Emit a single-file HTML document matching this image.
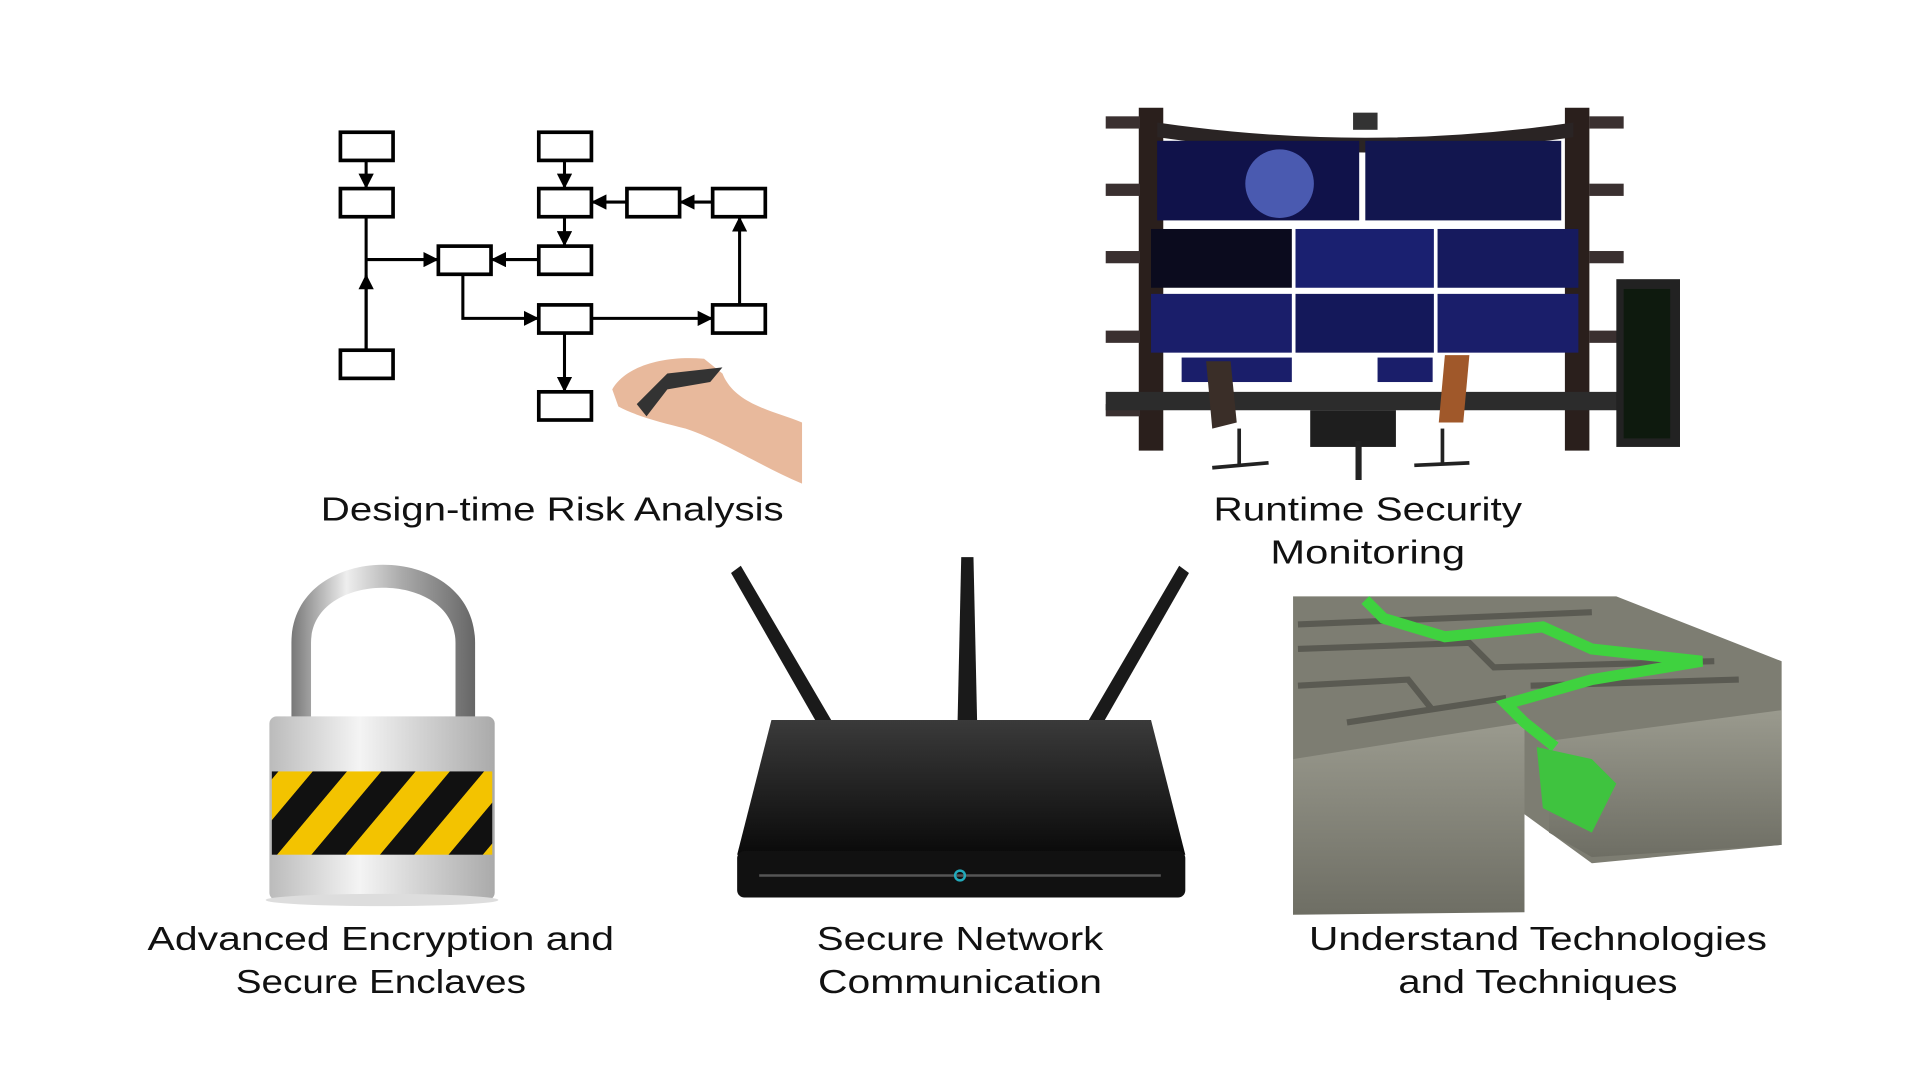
<!DOCTYPE html>
<html><head><meta charset="utf-8"><style>
html,body{margin:0;padding:0;background:#fff;width:1920px;height:1080px;overflow:hidden}
svg{display:block}
text{font-family:"Liberation Sans",sans-serif;font-size:27px;fill:#111;text-anchor:middle}
</style></head><body>
<svg width="1920" height="1080" viewBox="0 0 1568 882" xmlns="http://www.w3.org/2000/svg">
<defs>
<marker id="ar" markerWidth="5" markerHeight="5" refX="4.5" refY="2.5" orient="auto"><path d="M0,0 L5,2.5 L0,5 z" fill="#000"/></marker>
<linearGradient id="sh" x1="0" x2="1"><stop offset="0" stop-color="#777"/><stop offset=".3" stop-color="#eee"/><stop offset=".6" stop-color="#aaa"/><stop offset="1" stop-color="#666"/></linearGradient>
<linearGradient id="body" x1="0" x2="1"><stop offset="0" stop-color="#bbb"/><stop offset=".4" stop-color="#f4f4f4"/><stop offset="1" stop-color="#aaa"/></linearGradient>
<linearGradient id="rt" x1="0" y1="0" x2="0" y2="1"><stop offset="0" stop-color="#3a3a3a"/><stop offset="1" stop-color="#0a0a0a"/></linearGradient>
<linearGradient id="wall" x1="0" y1="0" x2="0" y2="1"><stop offset="0" stop-color="#9a9a8e"/><stop offset="1" stop-color="#6e6e64"/></linearGradient>
<pattern id="stripes" width="56" height="70" patternUnits="userSpaceOnUse" patternTransform="skewX(-40)"><rect width="56" height="70" fill="#f3c300"/><rect width="28" height="70" fill="#111"/></pattern>
</defs>

<g fill="#fff" stroke="#000" stroke-width="3">
<rect x="278" y="108" width="43" height="23"/>
<rect x="278" y="154" width="43" height="23"/>
<rect x="278" y="286" width="43" height="23"/>
<rect x="440" y="108" width="43" height="23"/>
<rect x="440" y="154" width="43" height="23"/>
<rect x="512" y="154" width="43" height="23"/>
<rect x="582" y="154" width="43" height="23"/>
<rect x="358" y="201" width="43" height="23"/>
<rect x="440" y="201" width="43" height="23"/>
<rect x="440" y="249" width="43" height="23"/>
<rect x="582" y="249" width="43" height="23"/>
<rect x="440" y="320" width="43" height="23"/>
</g>
<g stroke="#000" stroke-width="2.5" fill="none" marker-end="url(#ar)">
<line x1="299" y1="131" x2="299" y2="153"/>
<line x1="461" y1="131" x2="461" y2="153"/>
<line x1="461" y1="177" x2="461" y2="200"/>
<line x1="512" y1="165" x2="484" y2="165"/>
<line x1="582" y1="165" x2="556" y2="165"/>
<line x1="299" y1="212" x2="357" y2="212"/>
<line x1="440" y1="212" x2="402" y2="212"/>
<polyline points="378,224 378,260 439,260"/>
<line x1="483" y1="260" x2="581" y2="260"/>
<line x1="604" y1="249" x2="604" y2="178"/>
<line x1="461" y1="272" x2="461" y2="319"/>
<line x1="299" y1="286" x2="299" y2="225"/>
</g>
<line x1="299" y1="177" x2="299" y2="286" stroke="#000" stroke-width="2.5"/>
<path d="M500,318 C510,300 540,290 575,293 L590,305 C600,330 630,335 655,345 L655,395 C620,380 590,360 560,350 C540,345 520,340 505,332 Z" fill="#e8b99c"/>
<path d="M520,330 L545,305 L590,300 L580,312 L545,318 L528,340 Z" fill="#333"/>

<g>
<rect x="930" y="88" width="20" height="280" fill="#2a1f1c"/>
<rect x="1278" y="88" width="20" height="280" fill="#2a1f1c"/>
<g fill="#3a3030"><rect x="903" y="95" width="28" height="10"/><rect x="903" y="150" width="28" height="10"/><rect x="903" y="205" width="28" height="10"/><rect x="903" y="270" width="28" height="10"/><rect x="903" y="330" width="28" height="10"/><rect x="1298" y="95" width="28" height="10"/><rect x="1298" y="150" width="28" height="10"/><rect x="1298" y="205" width="28" height="10"/><rect x="1298" y="270" width="28" height="10"/></g>
<path d="M945,100 Q1115,125 1285,100 L1285,112 Q1115,137 945,112 Z" fill="#2a2424"/>
<rect x="945" y="115" width="165" height="65" fill="#10124a"/>
<rect x="1115" y="115" width="160" height="65" fill="#12164f"/>
<circle cx="1045" cy="150" r="28" fill="#4a5ab0"/>
<rect x="940" y="187" width="115" height="48" fill="#0b0b1e"/>
<rect x="1058" y="187" width="113" height="48" fill="#1a2070"/>
<rect x="1174" y="187" width="115" height="48" fill="#161a5e"/>
<rect x="940" y="240" width="115" height="48" fill="#1a1e6a"/>
<rect x="1058" y="240" width="113" height="48" fill="#14185a"/>
<rect x="1174" y="240" width="115" height="48" fill="#1a1e6a"/>
<rect x="965" y="292" width="90" height="20" fill="#1a1e6a"/>
<rect x="1125" y="292" width="45" height="20" fill="#1a1e6a"/>
<rect x="1105" y="92" width="20" height="14" fill="#333"/>
<path d="M903,320 L1325,320 L1325,335 L903,335 Z" fill="#2c2c2c"/>
<rect x="1070" y="335" width="70" height="30" fill="#1e1e1e"/>
<rect x="1107" y="360" width="5" height="32" fill="#222"/>
<rect x="1320" y="228" width="52" height="137" fill="#222"/>
<rect x="1326" y="236" width="38" height="122" fill="#0e1a0e"/>
<path d="M985,295 L1005,295 L1010,345 L990,350 Z" fill="#3a2e28"/>
<path d="M1180,290 L1200,290 L1195,345 L1175,345 Z" fill="#a0582a"/>
<g stroke="#222" stroke-width="3"><line x1="1012" y1="350" x2="1012" y2="380"/><line x1="990" y1="382" x2="1036" y2="378"/><line x1="1178" y1="350" x2="1178" y2="378"/><line x1="1155" y1="380" x2="1200" y2="378"/></g>
</g>

<path d="M238,590 L238,525 C238,440 388,440 388,525 L388,590 L372,590 L372,525 C372,465 254,465 254,525 L254,590 Z" fill="url(#sh)"/>
<rect x="220" y="585" width="184" height="150" rx="6" fill="url(#body)"/>
<rect x="222" y="630" width="180" height="68" fill="url(#stripes)"/>
<ellipse cx="312" cy="735" rx="95" ry="5" fill="#ddd"/>

<g fill="#1a1a1a">
<path d="M597,468 L605,462 L680,590 L668,592 Z"/>
<path d="M785,455 L795,455 L798,590 L782,590 Z"/>
<path d="M963,462 L971,468 L900,592 L888,590 Z"/>
</g>
<path d="M630,588 L940,588 L968,698 L602,698 Z" fill="url(#rt)"/>
<rect x="602" y="695" width="366" height="38" rx="6" fill="#111"/>
<line x1="620" y1="715" x2="948" y2="715" stroke="#555" stroke-width="2"/>
<circle cx="784" cy="715" r="4" fill="none" stroke="#2ab" stroke-width="2"/>

<path d="M1056,487 L1320,487 L1455,540 L1455,690 L1300,705 L1245,665 L1056,747 Z" fill="#7d7d72"/>
<path d="M1056,620 L1245,590 L1245,745 L1056,747 Z" fill="url(#wall)"/>
<path d="M1265,605 L1455,580 L1455,690 L1300,700 L1265,680 Z" fill="url(#wall)"/>
<g stroke="#5a5a52" stroke-width="5" fill="none">
<path d="M1060,510 L1300,500 M1060,530 L1200,525 L1220,545 L1400,540 M1060,560 L1150,555 L1170,580 M1250,560 L1420,555 M1100,590 L1230,570"/>
</g>
<path d="M1115,490 L1130,505 L1180,520 L1260,512 L1300,530 L1390,540 L1300,555 L1230,575 L1245,590 L1270,610" stroke="#3fd23f" stroke-width="9" fill="none"/>
<path d="M1255,610 L1300,620 L1320,640 L1300,680 L1260,660 Z" fill="#3fc33f"/>

<text x="451" y="425" textLength="378" lengthAdjust="spacingAndGlyphs">Design-time Risk Analysis</text>
<text x="1117" y="425" textLength="252" lengthAdjust="spacingAndGlyphs">Runtime Security</text>
<text x="1117" y="460" textLength="159" lengthAdjust="spacingAndGlyphs">Monitoring</text>
<text x="311" y="776" textLength="381" lengthAdjust="spacingAndGlyphs">Advanced Encryption and</text>
<text x="311" y="811" textLength="237" lengthAdjust="spacingAndGlyphs">Secure Enclaves</text>
<text x="784" y="776" textLength="234" lengthAdjust="spacingAndGlyphs">Secure Network</text>
<text x="784" y="811" textLength="232" lengthAdjust="spacingAndGlyphs">Communication</text>
<text x="1256" y="776" textLength="374" lengthAdjust="spacingAndGlyphs">Understand Technologies</text>
<text x="1256" y="811" textLength="228" lengthAdjust="spacingAndGlyphs">and Techniques</text>
</svg>
</body></html>
